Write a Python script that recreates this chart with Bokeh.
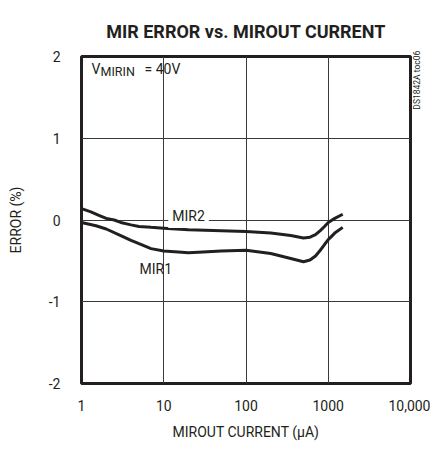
import math
from bokeh.plotting import figure
from bokeh.models import FixedTicker, Label, LinearAxis
from bokeh.embed import file_html
from bokeh.resources import INLINE

# data
mir2_current = [1, 1.3, 1.6, 2, 2.5, 3, 4, 5, 7, 10, 20, 50, 100, 200, 350, 500, 600, 700, 800, 900, 1000, 1200, 1500]
mir2_error = [0.14, 0.10, 0.06, 0.02, 0.0, -0.03, -0.06, -0.08, -0.09, -0.10, -0.12, -0.13, -0.14, -0.16, -0.19, -0.22, -0.21, -0.18, -0.13, -0.08, -0.03, 0.02, 0.07]
mir1_current = [1, 1.5, 2, 3, 4, 5, 7, 10, 15, 20, 30, 50, 100, 200, 350, 500, 600, 700, 800, 900, 1000, 1200, 1500]
mir1_error = [-0.03, -0.07, -0.11, -0.19, -0.25, -0.29, -0.35, -0.38, -0.39, -0.40, -0.39, -0.38, -0.37, -0.41, -0.47, -0.51, -0.49, -0.44, -0.37, -0.30, -0.24, -0.16, -0.09]
x_ticks = [1, 10, 100, 1000, 10000]
x_tick_labels = ["1", "10", "100", "1000", "10,000"]
y_ticks = [-2, -1, 0, 1, 2]
y_tick_labels = ["-2", "-1", "0", "1", "2"]
side_note = "DS1842A toc06"

FONT = "Roboto"
INK = "#231f20"
SIDE_NOTE_AT = 1.35

p = figure(width=430, height=454, x_axis_type="log", x_range=(1, 10000), y_range=(-2, 2),
           output_backend="svg", toolbar_location=None,
           min_border_left=81, min_border_right=19, min_border_top=56, min_border_bottom=71)

p.title.text = "MIR ERROR vs. MIROUT CURRENT"
p.title.align = "center"
p.title.text_font = FONT
p.title.text_font_style = "bold"
p.title.text_font_size = "18px"
p.title.text_color = INK
p.title.standoff = 30

p.outline_line_color = INK
p.outline_line_width = 3
p.background_fill_color = "white"
p.border_fill_color = "white"

side_axis = LinearAxis(ticker=FixedTicker(ticks=[SIDE_NOTE_AT]),
                       major_label_overrides={SIDE_NOTE_AT: side_note},
                       major_label_orientation=math.pi / 2,
                       major_label_standoff=7,
                       major_tick_in=0, major_tick_out=0,
                       minor_tick_in=0, minor_tick_out=0,
                       major_label_text_font=FONT, major_label_text_font_size="8.5px",
                       major_label_text_color=INK,
                       axis_line_color=None, major_tick_line_color=None,
                       minor_tick_line_color=None)
p.add_layout(side_axis, "right")

for ax in (p.xaxis[0], p.yaxis[0]):
    ax.axis_line_color = None
    ax.major_tick_line_color = None
    ax.minor_tick_line_color = None
    ax.major_label_text_font = FONT
    ax.major_label_text_font_size = "14px"
    ax.major_label_text_color = INK
    ax.axis_label_text_font = FONT
    ax.axis_label_text_font_size = "14px"
    ax.axis_label_text_font_style = "normal"
    ax.axis_label_text_color = INK

p.xaxis.ticker = FixedTicker(ticks=x_ticks)
p.xaxis.major_label_overrides = dict(zip(x_ticks, x_tick_labels))
p.xaxis.axis_label = "MIROUT CURRENT (μA)"
p.xaxis.major_label_standoff = 10
p.xaxis.axis_label_standoff = 10

p.yaxis[0].ticker = FixedTicker(ticks=y_ticks)
p.yaxis[0].major_label_overrides = dict(zip(y_ticks, y_tick_labels))
p.yaxis[0].axis_label = "ERROR (%)"
p.yaxis[0].major_label_standoff = 15
p.yaxis[0].axis_label_standoff = 22

p.xgrid.ticker = FixedTicker(ticks=x_ticks)
p.ygrid.ticker = FixedTicker(ticks=y_ticks)
for g in (p.xgrid[0], p.ygrid[0]):
    g.grid_line_color = "#3a3a3a"
    g.grid_line_width = 1

p.line(mir2_current, mir2_error, line_color=INK, line_width=3)
p.line(mir1_current, mir1_error, line_color=INK, line_width=3)

p.add_layout(Label(x=20, y=0.05, text="MIR2", text_font=FONT, text_font_size="14px",
                   text_color=INK, text_align="center", text_baseline="middle",
                   background_fill_color="white", padding=4))
p.add_layout(Label(x=8, y=-0.6, text="MIR1", text_font=FONT, text_font_size="14px",
                   text_color=INK, text_align="center", text_baseline="middle"))

p.add_layout(Label(x=1, y=2, x_offset=10, y_offset=-20, text="V", text_font=FONT,
                   text_font_size="14px", text_color=INK, text_baseline="bottom"))
p.add_layout(Label(x=1, y=2, x_offset=19, y_offset=-22, text="MIRIN", text_font=FONT,
                   text_font_size="12.5px", text_color=INK, text_baseline="bottom"))
p.add_layout(Label(x=1, y=2, x_offset=63, y_offset=-20, text="= 40V", text_font=FONT,
                   text_font_size="14px", text_color=INK, text_baseline="bottom"))

open("out.html", "w").write(file_html(p, INLINE))
